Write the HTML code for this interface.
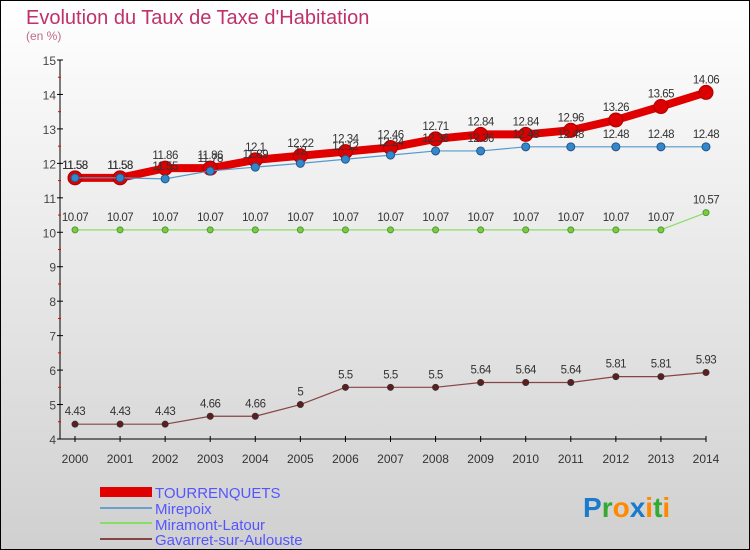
<!DOCTYPE html>
<html><head><meta charset="utf-8"><style>
body{margin:0}
svg{display:block;font-family:"Liberation Sans",sans-serif}
</style></head><body>
<svg id="c" width="750" height="550" viewBox="0 0 750 550">
<defs><linearGradient id="bg" x1="0" y1="0" x2="0" y2="1"><stop offset="0" stop-color="#ffffff"/><stop offset="1" stop-color="#d0d0d0"/></linearGradient></defs>
<rect x="0.5" y="0.5" width="749" height="549" fill="url(#bg)" stroke="#000"/>
<text x="26" y="24" font-size="20" fill="#c0306a">Evolution du Taux de Taxe d'Habitation</text>
<text x="26" y="40" font-size="12" fill="#c06a8a">(en %)</text>
<g id="axes"></g><g id="series"></g><g id="labels"></g>
<g>
<rect x="100" y="487" width="52" height="10" fill="#e00000"/>
<text x="155" y="498" font-size="15" fill="#5555ff">TOURRENQUETS</text>
<rect x="100" y="507" width="52" height="2" fill="#6aa0cc"/>
<text x="155" y="514" font-size="15" fill="#5555ff">Mirepoix</text>
<rect x="100" y="522" width="52" height="2" fill="#88dd66"/>
<text x="155" y="530" font-size="15" fill="#5555ff">Miramont-Latour</text>
<rect x="100" y="538" width="52" height="2" fill="#884444"/>
<text x="155" y="545" font-size="15" fill="#5555ff">Gavarret-sur-Aulouste</text>
</g>
<g font-size="28" font-weight="bold">
<text x="583" y="517"><tspan fill="#1a7acc">P</tspan><tspan fill="#33aa33">r</tspan><tspan fill="#ff8800">o</tspan><tspan fill="#1a7acc">x</tspan><tspan fill="#ff8800">i</tspan><tspan fill="#33aa33">t</tspan><tspan fill="#ff8800">i</tspan></text>
</g>
</svg>
<script>
const years=[2000,2001,2002,2003,2004,2005,2006,2007,2008,2009,2010,2011,2012,2013,2014];
const yTicks=[4,5,6,7,8,9,10,11,12,13,14,15];
const tourrenquets=[11.58,11.58,11.86,11.86,12.1,12.22,12.34,12.46,12.71,12.84,12.84,12.96,13.26,13.65,14.06];
const mirepoix=[11.58,11.58,11.55,11.78,11.89,12,12.12,12.24,12.36,12.36,12.48,12.48,12.48,12.48,12.48];
const miramont=[10.07,10.07,10.07,10.07,10.07,10.07,10.07,10.07,10.07,10.07,10.07,10.07,10.07,10.07,10.57];
const gavarret=[4.43,4.43,4.43,4.66,4.66,5,5.5,5.5,5.5,5.64,5.64,5.64,5.81,5.81,5.93];
const NS="http://www.w3.org/2000/svg";
const X=i=>75+i*(706-75)/(years.length-1);
const Y=v=>439-(v-4)*(439-60)/11;
function mk(t,a,p){const e=document.createElementNS(NS,t);for(const k in a)e.setAttribute(k,a[k]);p.appendChild(e);return e;}
const ax=document.getElementById('axes');
const yl=mk('line',{x1:60,y1:60,x2:60,y2:439,stroke:'#000'},ax);


const xl=mk('line',{x1:60,y1:439,x2:706,y2:439,stroke:'#000'},ax);


yTicks.forEach(v=>{
 mk('line',{x1:57,y1:Y(v),x2:63,y2:Y(v),stroke:'#000'},ax);
 if(v<15)mk('line',{x1:58,y1:Y(v+0.5),x2:61,y2:Y(v+0.5),stroke:'#e00'},ax);
 const t=mk('text',{x:56,y:Y(v)+5,'font-size':12,fill:'#444','text-anchor':'end'},ax);t.textContent=v;
 
 
});
years.forEach((y,i)=>{
 mk('line',{x1:X(i),y1:436,x2:X(i),y2:442,stroke:'#000'},ax);
 const t=mk('text',{x:X(i),y:463,'font-size':12,fill:'#333','text-anchor':'middle'},ax);t.textContent=y;
 
 
});
const sg=document.getElementById('series'),lg=document.getElementById('labels');
function draw(vals,name,color,w,r,dot,stroke){
 const g=mk('g',{},sg);
 
 
 const pl=mk('polyline',{points:vals.map((v,i)=>X(i)+','+Y(v)).join(' '),fill:'none',stroke:color,'stroke-width':w,'stroke-linejoin':'round'},g);
 
 
 vals.forEach((v,i)=>{
  const c=mk('circle',{cx:X(i),cy:Y(v),r:r,fill:dot,stroke:stroke,'stroke-width':1},g);
  
  
  const t=mk('text',{x:X(i),y:Y(v)-9,'font-size':11.5,fill:'#333','text-anchor':'middle','letter-spacing':'-0.5'},lg);
  t.textContent=v;
  
  
 });
}
draw(gavarret,'gavarret','#884444',1.2,3,'#661a1a','#333');
draw(miramont,'miramont-latour','#88dd66',1.2,3,'#77cc44','#559933');
draw(tourrenquets,'tourrenquets','#e00000',8,7,'#dd0000','#aa0000');
draw(mirepoix,'mirepoix','#5599cc',1.2,4,'#3388cc','#225588');
</script>
</body></html>
